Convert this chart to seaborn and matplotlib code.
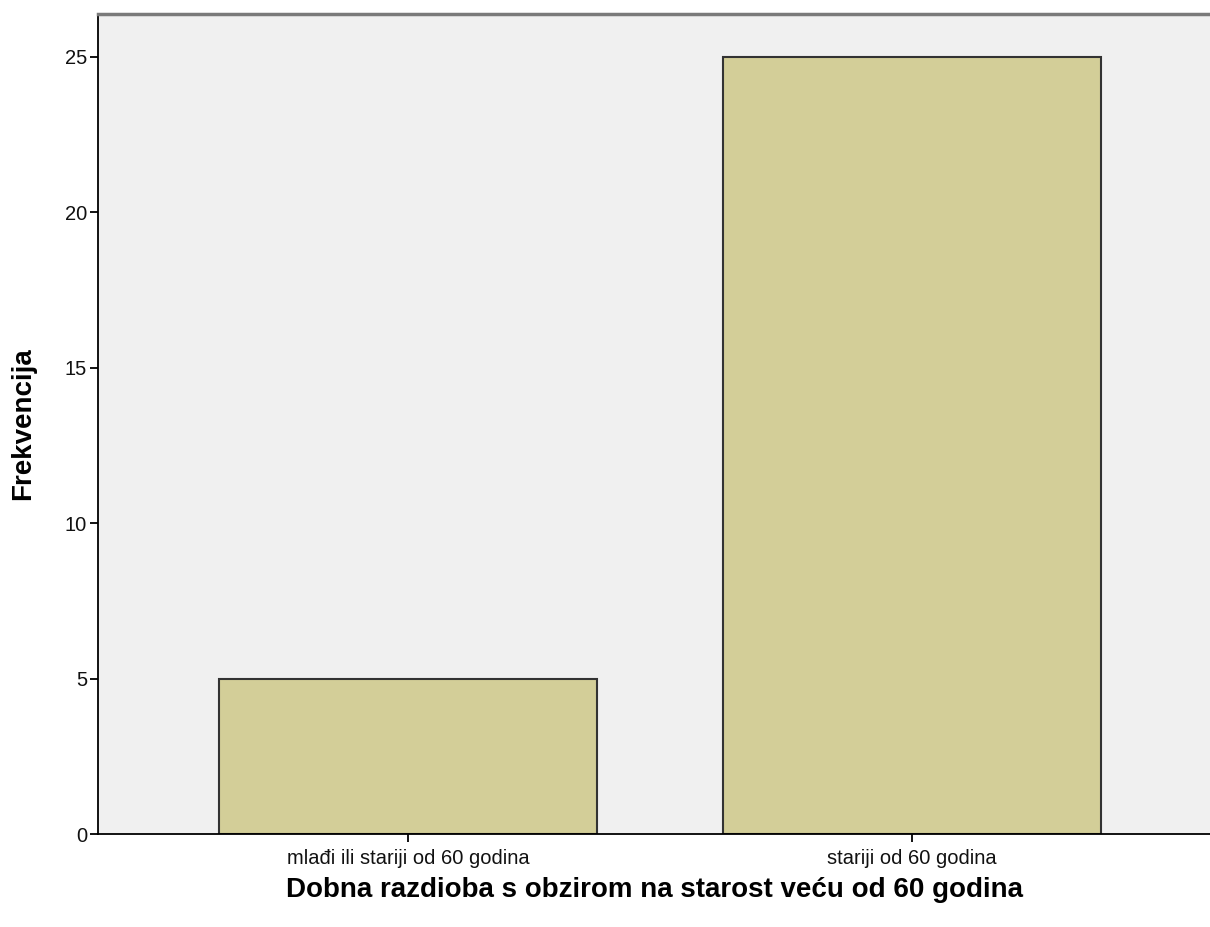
import matplotlib
matplotlib.use("Agg")
import matplotlib.pyplot as plt
import seaborn as sns
import pandas as pd

# podaci s grafikona
kategorije = ["mlađi ili stariji od 60 godina", "stariji od 60 godina"]
frekvencije = [5, 25]
y_ticks = [0, 5, 10, 15, 20, 25]

df = pd.DataFrame({"kategorija": kategorije, "frekvencija": frekvencije})

sns.set_style("white")
plt.rcParams["font.family"] = ["Liberation Sans", "DejaVu Sans"]

fig = plt.figure(figsize=(12.1, 9.27), dpi=100)
ax = fig.add_axes([98 / 1210, 1 - 834 / 927, 1 - 98 / 1210, (834 - 14) / 927])
ax.set_facecolor("#F0F0F0")

sns.barplot(data=df, x="kategorija", y="frekvencija", ax=ax, color="#D3CE98",
            width=0.75, edgecolor="#333333", linewidth=1.5, saturation=1)

ax.set_xlim(-0.615, 1.591)
ax.set_ylim(0, 26.38)
ax.set_yticks(y_ticks)
ax.tick_params(axis="both", direction="out", length=6, width=1.3, color="black",
               labelsize=14.5, labelcolor="#111111", left=True, bottom=True)
ax.tick_params(axis="x", pad=5)
ax.tick_params(axis="y", pad=2)

for side in ["left", "bottom"]:
    ax.spines[side].set_color("black")
    ax.spines[side].set_linewidth(1.3)
ax.spines["top"].set_color("#7A7A7A")
ax.spines["top"].set_linewidth(2.5)
ax.spines["right"].set_visible(False)

ax.set_xlabel("Dobna razdioba s obzirom na starost veću od 60 godina",
              fontsize=20, fontweight="bold", labelpad=6, color="black")
ax.set_ylabel("Frekvencija", fontsize=20, fontweight="bold", color="black")
ax.yaxis.set_label_coords(-(98 - 36) / (1210 - 98), 0.5)

fig.savefig("out.png", dpi=100, facecolor="white")
